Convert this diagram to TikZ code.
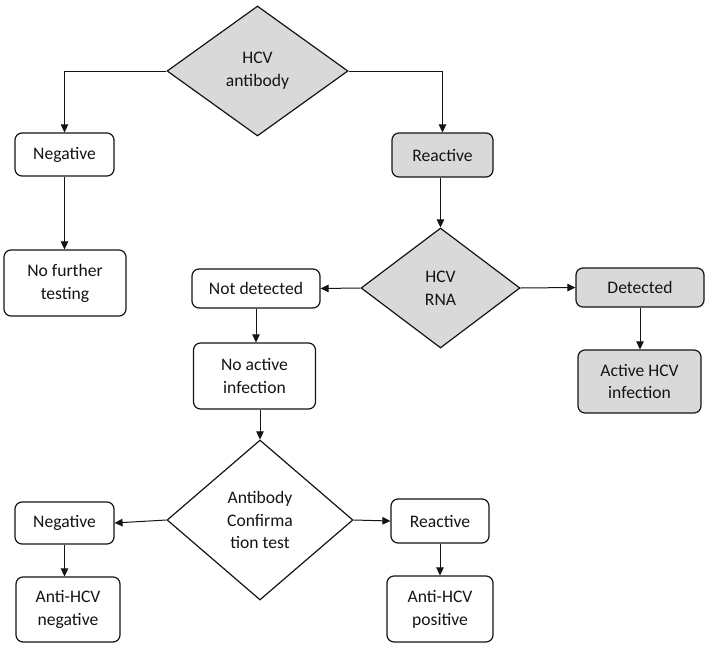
\documentclass[tikz,border=0pt]{standalone}
\usepackage{fontspec}
\setmainfont{Carlito}
\usetikzlibrary{shapes.geometric,arrows.meta}
\definecolor{boxgray}{RGB}{217,217,217}
\definecolor{inkc}{RGB}{20,20,20}
\tikzset{
  every node/.style={font=\fontsize{17.6}{22.8}\selectfont, text=inkc, align=center},
  rbox/.style={draw=inkc, line width=1.2pt, rounded corners=7pt, fill=white, inner sep=0pt},
  gbox/.style={rbox, fill=boxgray},
  dia/.style={draw=inkc, line width=1.2pt, diamond, inner sep=0pt, aspect=1.4},
  arr/.style={draw=inkc, line width=1pt, -{Triangle[length=8pt,width=7.5pt]}}
}
\begin{document}
\begin{tikzpicture}[x=1pt,y=-1pt]
\useasboundingbox[fill=white] (0,0) rectangle (709,645);
% diamonds
\node[dia, fill=boxgray, minimum width=181pt, minimum height=130pt] (d1) at (257.5,71) {HCV\\antibody};
\node[dia, fill=boxgray, minimum width=159pt, minimum height=120pt] (d2) at (440.5,288) {HCV\\RNA};
\node[dia, fill=white, minimum width=186pt, minimum height=160pt] (d3) at (260,520) {Antibody\\Confirma\\tion test};
% boxes
\node[rbox, minimum width=99pt, minimum height=43pt] (neg1) at (64.5,154.5) {Negative};
\node[gbox, minimum width=101pt, minimum height=44pt] (rea1) at (442.5,155) {Reactive};
\node[rbox, minimum width=122pt, minimum height=66pt] (nofur) at (65,283) {No further\\testing};
\node[rbox, minimum width=128pt, minimum height=39pt] (notdet) at (256,288.5) {Not detected};
\node[rbox, minimum width=122pt, minimum height=66pt] (noact) at (254.5,376) {No active\\infection};
\node[gbox, minimum width=128pt, minimum height=39pt] (det) at (640,287.5) {Detected};
\node[gbox, minimum width=123pt, minimum height=63pt] (act) at (639.5,381.5) {Active HCV\\infection};
\node[rbox, minimum width=99pt, minimum height=42pt] (neg2) at (64.5,523) {Negative};
\node[rbox, minimum width=104pt, minimum height=65pt] (antineg) at (68,609.5) {Anti-HCV\\negative};
\node[rbox, minimum width=98pt, minimum height=44pt] (rea2) at (440,521) {Reactive};
\node[rbox, minimum width=106pt, minimum height=66pt] (antipos) at (440,609) {Anti-HCV\\positive};
% connectors
\draw[arr] (d1.west) -| (neg1.north);
\draw[arr] (d1.east) -| (rea1.north);
\draw[arr] (neg1.south) -- (neg1.south |- nofur.north);
\draw[arr] (d2.north |- rea1.south) -- (d2.north);
\draw[arr] (d2.west) -- (notdet.east);
\draw[arr] (d2.east) -- (det.west);
\draw[arr] (notdet.south) -- (notdet.south |- noact.north);
\draw[arr] (det.south) -- (det.south |- act.north);
\draw[arr] (d3.north |- noact.south) -- (d3.north);
\draw[arr] (d3.west) -- (neg2.east);
\draw[arr] (d3.east) -- (rea2.west);
\draw[arr] (neg2.south) -- (neg2.south |- antineg.north);
\draw[arr] (rea2.south) -- (rea2.south |- antipos.north);
\end{tikzpicture}
\end{document}
